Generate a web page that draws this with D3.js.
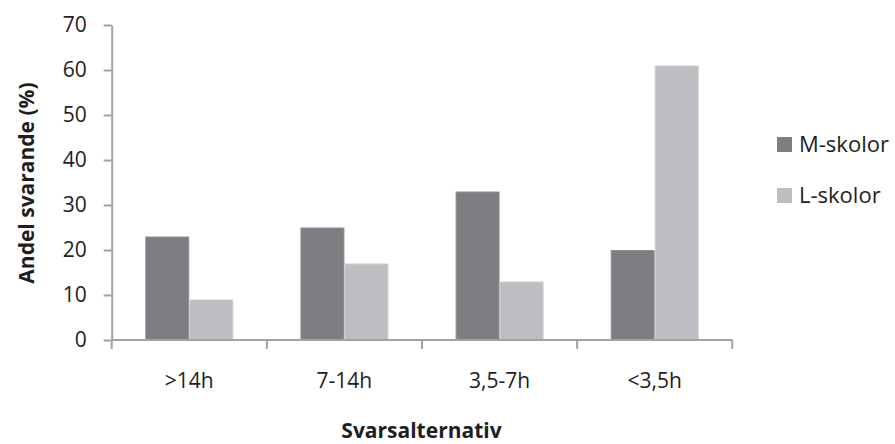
<!DOCTYPE html>
<html><head><meta charset="utf-8">
<script src="https://cdn.jsdelivr.net/npm/d3@7"></script>
<style>body{margin:0;background:#fff}svg{display:block}text{font-family:"Open Sans",sans-serif;fill:#1e1e1e}</style>
</head><body><svg id="c" width="895" height="444"></svg>
<script>
const categories = [">14h", "7-14h", "3,5-7h", "<3,5h"];
const seriesNames = ["M-skolor", "L-skolor"];
const mValues = [23, 25, 33, 20];
const lValues = [9, 17, 13, 61];
const yTicks = [0, 10, 20, 30, 40, 50, 60, 70];
const colors = ["#7d7e82", "#bdbec2"];
const edgeColors = ["#8e8f93", "#cbccd0"];

const svg = d3.select("#c");
const plotLeft = 111.7, plotRight = 732.3, plotTop = 25, plotBottom = 340;
const axisColor = "#a3a3a3";

const x = d3.scaleBand().domain(categories).range([plotLeft, plotRight]).padding(0);
const xs = d3.scaleBand().domain(seriesNames).range([0, x.bandwidth()]).paddingInner(0).paddingOuter(0.763);
const y = d3.scaleLinear().domain([0, 70]).range([plotBottom, plotTop]);

const data = categories.map((c, i) => ({cat: c, vals: [mValues[i], lValues[i]]}));

// bars
const g = svg.append("g");
data.forEach(d => {
  seriesNames.forEach((s, j) => {
    g.append("rect")
      .attr("x", x(d.cat) + xs(s) + 0.5)
      .attr("y", y(d.vals[j]) + 0.5)
      .attr("width", xs.bandwidth() - 1)
      .attr("height", y(0) - y(d.vals[j]) - 0.5)
      .attr("fill", colors[j])
      .attr("stroke", edgeColors[j])
      .attr("stroke-width", 1);
  });
});

// y axis
const yAxis = svg.append("g").attr("transform", `translate(${plotLeft},0)`)
  .call(d3.axisLeft(y).tickValues(yTicks).tickSize(8).tickSizeOuter(0).tickPadding(17));
yAxis.select(".domain").attr("stroke", axisColor).attr("stroke-width", 2);
yAxis.selectAll(".tick line").attr("stroke", axisColor).attr("stroke-width", 2);
yAxis.selectAll(".tick text").attr("font-size", 21).attr("font-family", "Open Sans").attr("fill", "#1e1e1e");

// x axis
const boundaries = categories.map(c => x(c)).concat([x(categories[categories.length - 1]) + x.bandwidth()]);
const xg = svg.append("g");
xg.append("line").attr("x1", plotLeft).attr("x2", plotRight).attr("y1", plotBottom).attr("y2", plotBottom)
  .attr("stroke", axisColor).attr("stroke-width", 2);
xg.selectAll("line.tk").data(boundaries).enter().append("line").attr("class", "tk")
  .attr("x1", d => d).attr("x2", d => d).attr("y1", plotBottom).attr("y2", plotBottom + 9)
  .attr("stroke", axisColor).attr("stroke-width", 2);
xg.selectAll("text.xl").data(categories).enter().append("text").attr("class", "xl")
  .attr("x", d => x(d) + x.bandwidth() / 2).attr("y", 388)
  .attr("text-anchor", "middle").attr("font-size", 21).text(d => d);

// axis titles
svg.append("text").attr("x", 421.5).attr("y", 438).attr("text-anchor", "middle")
  .attr("font-size", 21).attr("font-weight", "bold").text("Svarsalternativ");
svg.append("text").attr("transform", "translate(34,183) rotate(-90)").attr("text-anchor", "middle")
  .attr("font-size", 21).attr("font-weight", "bold").text("Andel svarande (%)");

// legend
const lg = svg.append("g");
seriesNames.forEach((s, j) => {
  const yy = 137 + j * 51;
  lg.append("rect").attr("x", 777).attr("y", yy).attr("width", 15).attr("height", 15).attr("fill", colors[j]);
  lg.append("text").attr("x", 799).attr("y", yy + 15).attr("font-size", 22).text(s);
});
</script></body></html>
